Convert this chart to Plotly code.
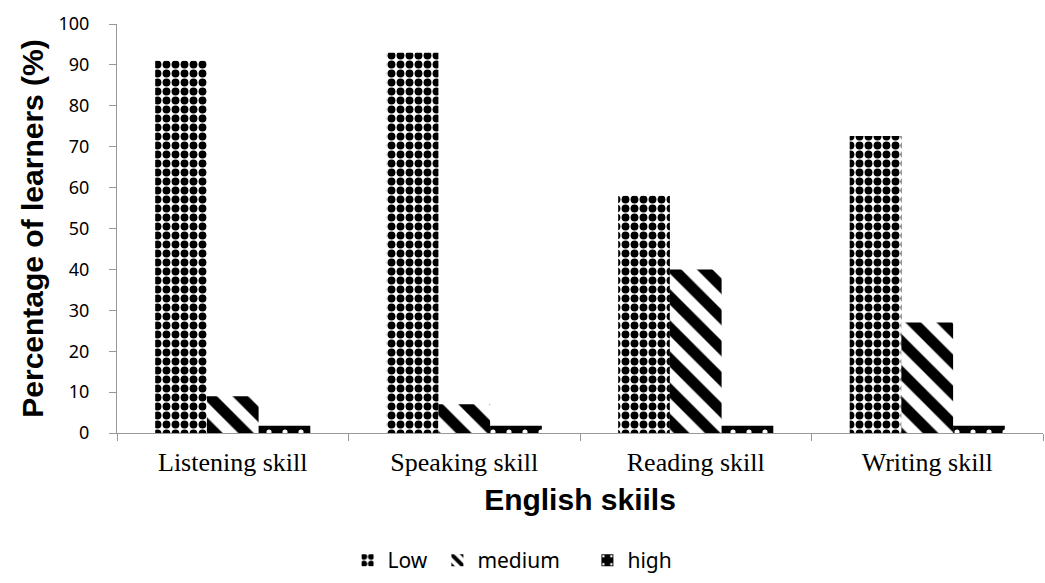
import plotly.graph_objects as go

categories = ["Listening skill", "Speaking skill", "Reading skill", "Writing skill"]
low = [91, 93, 58, 72.6]
medium = [9, 7, 40, 27]
high = [1.8, 1.8, 1.8, 1.8]
y_ticks = [0, 10, 20, 30, 40, 50, 60, 70, 80, 90, 100]

fig = go.Figure()
fig.add_bar(name="Low", x=categories, y=low, legend="legend",
            marker=dict(color="white", line=dict(width=0),
                        pattern=dict(shape=".", fgcolor="black", bgcolor="white", fgopacity=1,
                                     size=9, solidity=0.6)))
fig.add_bar(name="medium", x=categories, y=medium, legend="legend2",
            marker=dict(color="white", line=dict(width=0),
                        pattern=dict(shape="\\", fgcolor="black", bgcolor="white", fgopacity=1,
                                     size=22, solidity=0.5)))
fig.add_bar(name="high", x=categories, y=high, legend="legend3",
            marker=dict(color="black", line=dict(width=0),
                        pattern=dict(shape=".", fgcolor="white", bgcolor="black", fgopacity=1,
                                     size=16, solidity=0.08)))

legend_style = dict(orientation="h", xanchor="left", y=-0.312, yanchor="middle",
                    font=dict(family="Noto Sans", size=21, color="black"),
                    itemwidth=30, bgcolor="rgba(0,0,0,0)")

fig.update_layout(
    width=1045, height=583,
    margin=dict(l=117, r=2, t=24, b=142),
    paper_bgcolor="white", plot_bgcolor="white",
    barmode="group", bargap=0.33, bargroupgap=0,
    showlegend=True,
    legend=dict(x=0.249, **legend_style),
    legend2=dict(x=0.346, **legend_style),
    legend3=dict(x=0.508, **legend_style),
    xaxis=dict(
        automargin=False,
        title=dict(text="<b>English skiils</b>", font=dict(family="Liberation Sans", size=30, color="black"),
                   standoff=12),
        tickfont=dict(family="Liberation Serif", size=26, color="black"),
        ticklabelstandoff=6,
        showline=True, linecolor="#999999", linewidth=1,
        ticks="outside", tickson="boundaries", ticklen=7, tickcolor="#999999",
        showgrid=False, zeroline=False,
    ),
    yaxis=dict(
        automargin=False,
        title=dict(text="<b>Percentage of learners (%)</b>", font=dict(family="Liberation Sans", size=30, color="black"),
                   standoff=6),
        range=[0, 100], tickvals=y_ticks,
        tickfont=dict(family="Noto Sans", size=18, color="black"),
        ticklabelstandoff=16,
        showline=True, linecolor="#999999", linewidth=1,
        ticks="outside", ticklen=7, tickcolor="#999999",
        showgrid=False, zeroline=False,
    ),
)

fig.write_html(
    "out.html",
    config={"displayModeBar": False},
    post_script="document.body.style.margin='0';document.body.style.overflow='hidden';",
)
